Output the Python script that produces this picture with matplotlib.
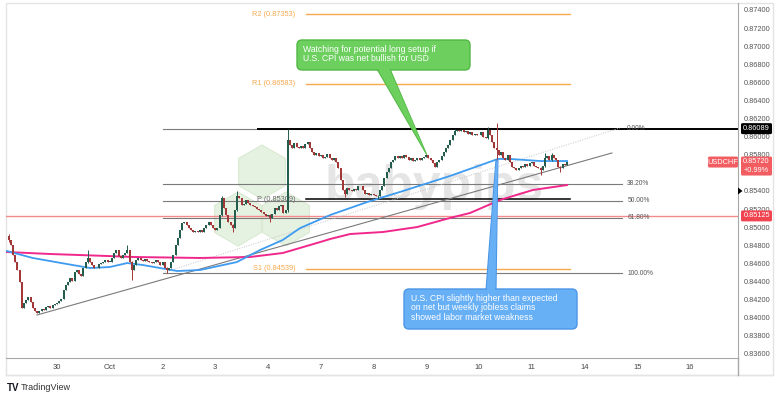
import matplotlib
matplotlib.use('Agg')
import matplotlib.pyplot as plt
from matplotlib.patches import FancyBboxPatch, Polygon, RegularPolygon, Rectangle

plt.rcParams['font.family'] = ['Liberation Sans', 'DejaVu Sans']

# USDCHF 1H closes, one list per trading day
sep27 = [0.8486, 0.8480, 0.8469, 0.8462, 0.8453, 0.8440, 0.8411, 0.8416, 0.8420, 0.8423, 0.8417,
         0.8411, 0.8407, 0.8405, 0.8407, 0.8410, 0.8408, 0.8412, 0.8413, 0.8411, 0.8414, 0.8415]
sep30 = [0.8416, 0.8418, 0.8421, 0.8431, 0.8436, 0.8440, 0.8444, 0.8441, 0.8450, 0.8453, 0.8448, 0.8446,
         0.8455, 0.8462, 0.8466, 0.8462, 0.8458, 0.8455, 0.8455, 0.8459, 0.8460, 0.8462, 0.8464, 0.8462]
oct1 = [0.8462, 0.8466, 0.8472, 0.8475, 0.8468, 0.8466, 0.8469, 0.8472, 0.8475, 0.8462, 0.8453, 0.8458,
        0.8464, 0.8466, 0.8464, 0.8463, 0.8465, 0.8463, 0.8462, 0.8460, 0.8462, 0.8464, 0.8462, 0.8458]
oct2 = [0.8462, 0.8455, 0.8453, 0.8455, 0.8462, 0.8469, 0.8480, 0.8488, 0.8497, 0.8505, 0.8506, 0.8502,
        0.8499, 0.8497, 0.8495, 0.8496, 0.8495, 0.8497, 0.8495, 0.8499, 0.8502, 0.8506, 0.8502, 0.8499]
oct3 = [0.8497, 0.8499, 0.8513, 0.8532, 0.8521, 0.8513, 0.8506, 0.8502, 0.8499, 0.8519, 0.8534, 0.8532,
        0.8524, 0.8526, 0.8530, 0.8527, 0.8525, 0.8523, 0.8522, 0.8520, 0.8519, 0.8517, 0.8515, 0.8512]
oct4 = [0.8514, 0.8510, 0.8515, 0.8521, 0.8519, 0.8523, 0.8524, 0.8516, 0.8519, 0.8596, 0.8591, 0.8588,
        0.8593, 0.8589, 0.8588, 0.8590, 0.8588, 0.8592, 0.8594, 0.8588, 0.8583, 0.8580, 0.8582, 0.8579]
oct7 = [0.8580, 0.8577, 0.8578, 0.8581, 0.8577, 0.8574, 0.8577, 0.8572, 0.8565, 0.8552, 0.8541, 0.8537,
        0.8543, 0.8541, 0.8540, 0.8542, 0.8541, 0.8545, 0.8546, 0.8541, 0.8537, 0.8538, 0.8536, 0.8537]
oct8 = [0.8536, 0.8534, 0.8535, 0.8541, 0.8546, 0.8554, 0.8561, 0.8565, 0.8572, 0.8574, 0.8579, 0.8577,
        0.8579, 0.8577, 0.8580, 0.8578, 0.8574, 0.8577, 0.8573, 0.8574, 0.8577, 0.8574, 0.8577, 0.8578]
oct9 = [0.8580, 0.8577, 0.8574, 0.8571, 0.8567, 0.8572, 0.8574, 0.8579, 0.8583, 0.8588, 0.8591, 0.8596,
        0.8602, 0.8606, 0.8607, 0.8606, 0.8607, 0.8605, 0.8606, 0.8603, 0.8605, 0.8602, 0.8603, 0.8602]
oct10 = [0.8602, 0.8605, 0.8600, 0.8599, 0.8607, 0.8602, 0.8594, 0.8588, 0.8585, 0.8580, 0.8583, 0.8577,
         0.8574, 0.8580, 0.8572, 0.8566, 0.8565, 0.8563, 0.8565, 0.8568, 0.8566, 0.8570, 0.8568, 0.8571]
oct11 = [0.8572, 0.8568, 0.8567, 0.8565, 0.8563, 0.8568, 0.8577, 0.8579, 0.8574, 0.8580, 0.8577, 0.8574,
         0.8567, 0.8565, 0.8570, 0.8569, 0.8572]

closes_by_day = [sep27, sep30, oct1, oct2, oct3, oct4, oct7, oct8, oct9, oct10, oct11]
day_pos = [-1, 0, 1, 2, 3, 4, 5, 6, 7, 8, 9]
first_hour = [2, 0, 0, 0, 0, 0, 0, 0, 0, 0, 0]
first_open = 0.8490

# visible wicks (day index into closes_by_day, hour, high, low)
wick_day = [0, 1, 2, 2, 3, 4, 4, 4, 5, 5, 6, 7, 8, 9, 9, 10, 10, 10, 10]
wick_hour = [2, 14, 8, 10, 2, 3, 8, 10, 1, 9, 11, 2, 13, 4, 8, 4, 6, 9, 13]
wick_high = [0.8492, 0.8475, 0.8480, 0.8463, 0.8456, 0.8535, 0.8503, 0.8540, 0.8515, 0.86089,
             0.8542, 0.8536, 0.8609, 0.8611, 0.8615, 0.8566, 0.8582, 0.8582, 0.8568]
wick_low = [0.8484, 0.8461, 0.8471, 0.8442, 0.8449, 0.8512, 0.8495, 0.8518, 0.8506, 0.8517,
            0.8533, 0.8531, 0.8604, 0.8598, 0.8561, 0.8558, 0.8567, 0.8573, 0.8561]

# moving averages (blue 100, pink 200)
sma100_x = [-0.95, -0.46, 0.19, 0.63, 1.0, 1.33, 1.63, 1.95, 2.28, 2.71, 3.41, 3.85, 4.28, 4.61,
            5.18, 5.88, 6.5, 7.45, 8.36, 8.59, 9.16, 9.67]
sma100_y = [0.84737, 0.84660, 0.84593, 0.84549, 0.84560, 0.84604, 0.84582, 0.84549, 0.84516, 0.84527,
            0.84615, 0.84748, 0.84859, 0.84991, 0.85135, 0.85278, 0.85389, 0.85566, 0.85754, 0.85754,
            0.85731, 0.85731]
sma200_x = [-0.95, -0.13, 0.95, 1.44, 2.71, 3.66, 4.28, 4.93, 5.18, 5.56, 6.18, 6.83, 7.45, 7.83,
            8.40, 9.02, 9.67]
sma200_y = [0.84726, 0.84704, 0.84682, 0.84671, 0.84660, 0.84671, 0.84715, 0.84826, 0.84870, 0.84925,
            0.84947, 0.85002, 0.85102, 0.85157, 0.85301, 0.85411, 0.85466]

pivot_names = ['R2', 'R1', 'P', 'S1']
pivot_vals = [0.87353, 0.86583, 0.85309, 0.84539]
fib_high = 0.86089
fib_low = 0.84494
fib_ratios = [0.0, 0.382, 0.5, 0.618, 1.0]
fib_labels = ['0.00%', '38.20%', '50.00%', '61.80%', '100.00%']
support_level = 0.85125
last_price = 0.85720
last_change = '+0.99%'
trend_x = [-0.38, 10.52]
trend_y = [0.84030, 0.85820]
dotted_x = [2.05, 10.67]
dotted_y = [0.84505, 0.86096]
xtick_pos = list(range(13))
xtick_labels = ['30', 'Oct', '2', '3', '4', '7', '8', '9', '10', '11', '14', '15', '16']
yticks = [0.836 + 0.002 * i for i in range(20)]
hidden_ytick = 0.856  # sits under the last-price tag

up_col = '#245c4e'
dn_col = '#a33838'
orange = '#f6a94f'

# build candles
xs, op, cl, hi, lo, idx = [], [], [], [], [], {}
prev = first_open
for d in range(len(closes_by_day)):
    for k, v in enumerate(closes_by_day[d]):
        hr = first_hour[d] + k
        idx[(d, hr)] = len(xs)
        xs.append(day_pos[d] + hr / 24.0)
        op.append(prev)
        cl.append(v)
        hi.append(max(prev, v))
        lo.append(min(prev, v))
        prev = v
for d, hr, wh, wl in zip(wick_day, wick_hour, wick_high, wick_low):
    i = idx[(d, hr)]
    hi[i] = max(hi[i], wh)
    lo[i] = min(lo[i], wl)

fig = plt.figure(figsize=(7.8, 3.98), dpi=100)
bg = fig.add_axes([0, 0, 1, 1], zorder=0)
bg.set_xlim(0, 780)
bg.set_ylim(398, 0)
bg.axis('off')

ax = fig.add_axes([6 / 780, 1 - 358 / 398, 732 / 780, 355 / 398], zorder=1)
ax.set_facecolor('none')
ax.set_xlim(-0.967, 12.91)
ax.set_ylim(0.83555, 0.87477)

ov = fig.add_axes([0, 0, 1, 1], zorder=2)
ov.set_xlim(0, 780)
ov.set_ylim(398, 0)
ov.axis('off')


def to_px(x, p):
    return ov.transData.inverted().transform(ax.transData.transform((x, p)))


# watermark
for cx, cy in [(262, 172), (238, 219), (286, 219)]:
    bg.add_patch(RegularPolygon((cx, cy), 6, radius=27, fc='#e6f2e1', ec='#d9e9d2', lw=0.8))
bg.text(325, 200, 'babypips', fontsize=36, fontweight='bold', color='#e5e5e5', va='baseline', ha='left')

# outer frame
bg.add_patch(Rectangle((6, 3), 767, 372, fill=False, ec='#e4e4e4', lw=1))
bg.plot([6, 773], [375, 375], color='#e4e4e4', lw=1)

# pivot and fib lines
fib_vals = [fib_high - r * (fib_high - fib_low) for r in fib_ratios]
for v, lab in zip(fib_vals, fib_labels):
    ax.plot([2.01, 10.71], [v, v], color='#7a7a7a', lw=0.8, zorder=2)
    ax.text(10.81, v, lab, fontsize=4.8, color='#555555', va='center', ha='left')
ax.plot([3.81, 13], [fib_high, fib_high], color='black', lw=1.4, zorder=2)
ax.axhline(support_level, color='#f38b8b', lw=1.0, zorder=2)
for name, v in zip(pivot_names, pivot_vals):
    col = 'black' if name == 'P' else orange
    ax.plot([4.72, 9.73], [v, v], color=col, lw=1.1 if name == 'P' else 1.0, zorder=2)
    ax.text(4.52, v, '%s (%.5f)' % (name, v), fontsize=5.3, color='#666666' if name == 'P' else orange,
            va='center', ha='right')

# trend lines and MAs
ax.plot(dotted_x, dotted_y, color='#c4c4c4', lw=0.7, ls=(0, (1, 1.5)), zorder=2)
ax.plot(trend_x, trend_y, color='#7a7a7a', lw=0.8, zorder=2)
ax.plot(sma200_x, sma200_y, color='#f0288c', lw=1.4, zorder=3)
ax.plot(sma100_x, sma100_y, color='#3d9bf0', lw=1.3, zorder=3)

# candles
cols = [up_col if c >= o else dn_col for o, c in zip(op, cl)]
ax.vlines(xs, lo, hi, colors=cols, lw=0.7, zorder=4)
bot = [min(o, c) for o, c in zip(op, cl)]
hgt = [max(abs(c - o), 0.00004) for o, c in zip(op, cl)]
ax.bar(xs, hgt, bottom=bot, width=0.038, color=cols, lw=0, zorder=5)

# axes styling
for s in ['top', 'left']:
    ax.spines[s].set_visible(False)
ax.spines['right'].set_color('#a8a8a8')
ax.spines['bottom'].set_color('#a8a8a8')
ax.yaxis.tick_right()
ax.set_yticks(yticks)
ax.set_yticklabels(['' if abs(v - hidden_ytick) < 1e-9 else '%.5f' % v for v in yticks])
ax.tick_params(axis='y', length=0, pad=4, labelsize=5.3, labelcolor='#555555')
ax.set_xticks(xtick_pos)
ax.set_xticklabels(xtick_labels)
ax.tick_params(axis='x', length=0, pad=4, labelsize=5.5, labelcolor='#444444')
bg.plot([738, 738], [358, 375], color='#a8a8a8', lw=1)


# right axis labels
def price_box(p, txt, fc, h=11, y0=None):
    _, yc = to_px(0, p)
    top = yc - h / 2 if y0 is None else y0
    ov.add_patch(FancyBboxPatch((741, top), 31, h, boxstyle='round,pad=0,rounding_size=1.5', fc=fc, ec='none'))
    ov.text(756.5, top + h / 2, txt, fontsize=5.3, color='white', ha='center', va='center', linespacing=1.25)


price_box(fib_high, '%.5f' % fib_high, 'black')
price_box(support_level, '%.5f' % support_level, '#f04550')
_, ylast = to_px(0, last_price)
price_box(last_price, '%.5f\n%s' % (last_price, last_change), '#f25d62', h=19, y0=ylast - 5.5)
ov.add_patch(FancyBboxPatch((708, ylast - 5.5), 30, 11, boxstyle='round,pad=0,rounding_size=1.5', fc='#f25d62', ec='none'))
ov.text(723, ylast, 'USDCHF', fontsize=5.3, color='white', ha='center', va='center')
_, ymark = to_px(0, 0.854)
ov.add_patch(Polygon([(738, ymark - 3.5), (738, ymark + 3.5), (742.5, ymark)], closed=True, fc='black', ec='none'))

# callouts
gx, gy = to_px(7.01, 0.8580)
ov.add_patch(Polygon([(377, 69), (390, 69), (gx, gy)], closed=True, fc='#6ccf5e', ec='#52b845', lw=0.8))
ov.add_patch(FancyBboxPatch((297, 40), 173, 30, boxstyle='round,pad=0,rounding_size=5', fc='#6ccf5e', ec='#52b845', lw=1))
ov.add_patch(Polygon([(378, 68), (389, 68), (gx, gy)], closed=True, fc='#6ccf5e', ec='none'))
ov.text(303, 45, 'Watching for potential long setup if\nU.S. CPI was net bullish for USD', fontsize=6.2,
        color='white', va='top', ha='left', linespacing=1.05)

bx, by = to_px(8.34, 0.8574)
ov.add_patch(Polygon([(486, 290), (496, 290), (bx + 1, by), (bx - 1, by)], closed=True, fc='#68b0f6', ec='#4a96e6', lw=0.8))
ov.add_patch(FancyBboxPatch((404, 289), 173, 40, boxstyle='round,pad=0,rounding_size=5', fc='#68b0f6', ec='#4a96e6', lw=1))
ov.add_patch(Polygon([(487, 291), (495, 291), (bx + 0.8, by + 2), (bx - 0.8, by + 2)], closed=True, fc='#68b0f6', ec='none'))
ov.text(411, 294, 'U.S. CPI slightly higher than expected\non net but weekly jobless claims\nshowed labor market weakness',
        fontsize=6.2, color='white', va='top', ha='left', linespacing=1.05)

# logo
ov.text(7, 388, 'TV', fontsize=7, fontweight='bold', color='#131722', va='center', ha='left')
ov.text(21, 388, 'TradingView', fontsize=6.5, color='#333333', va='center', ha='left')

fig.savefig('out.png', dpi=100)
